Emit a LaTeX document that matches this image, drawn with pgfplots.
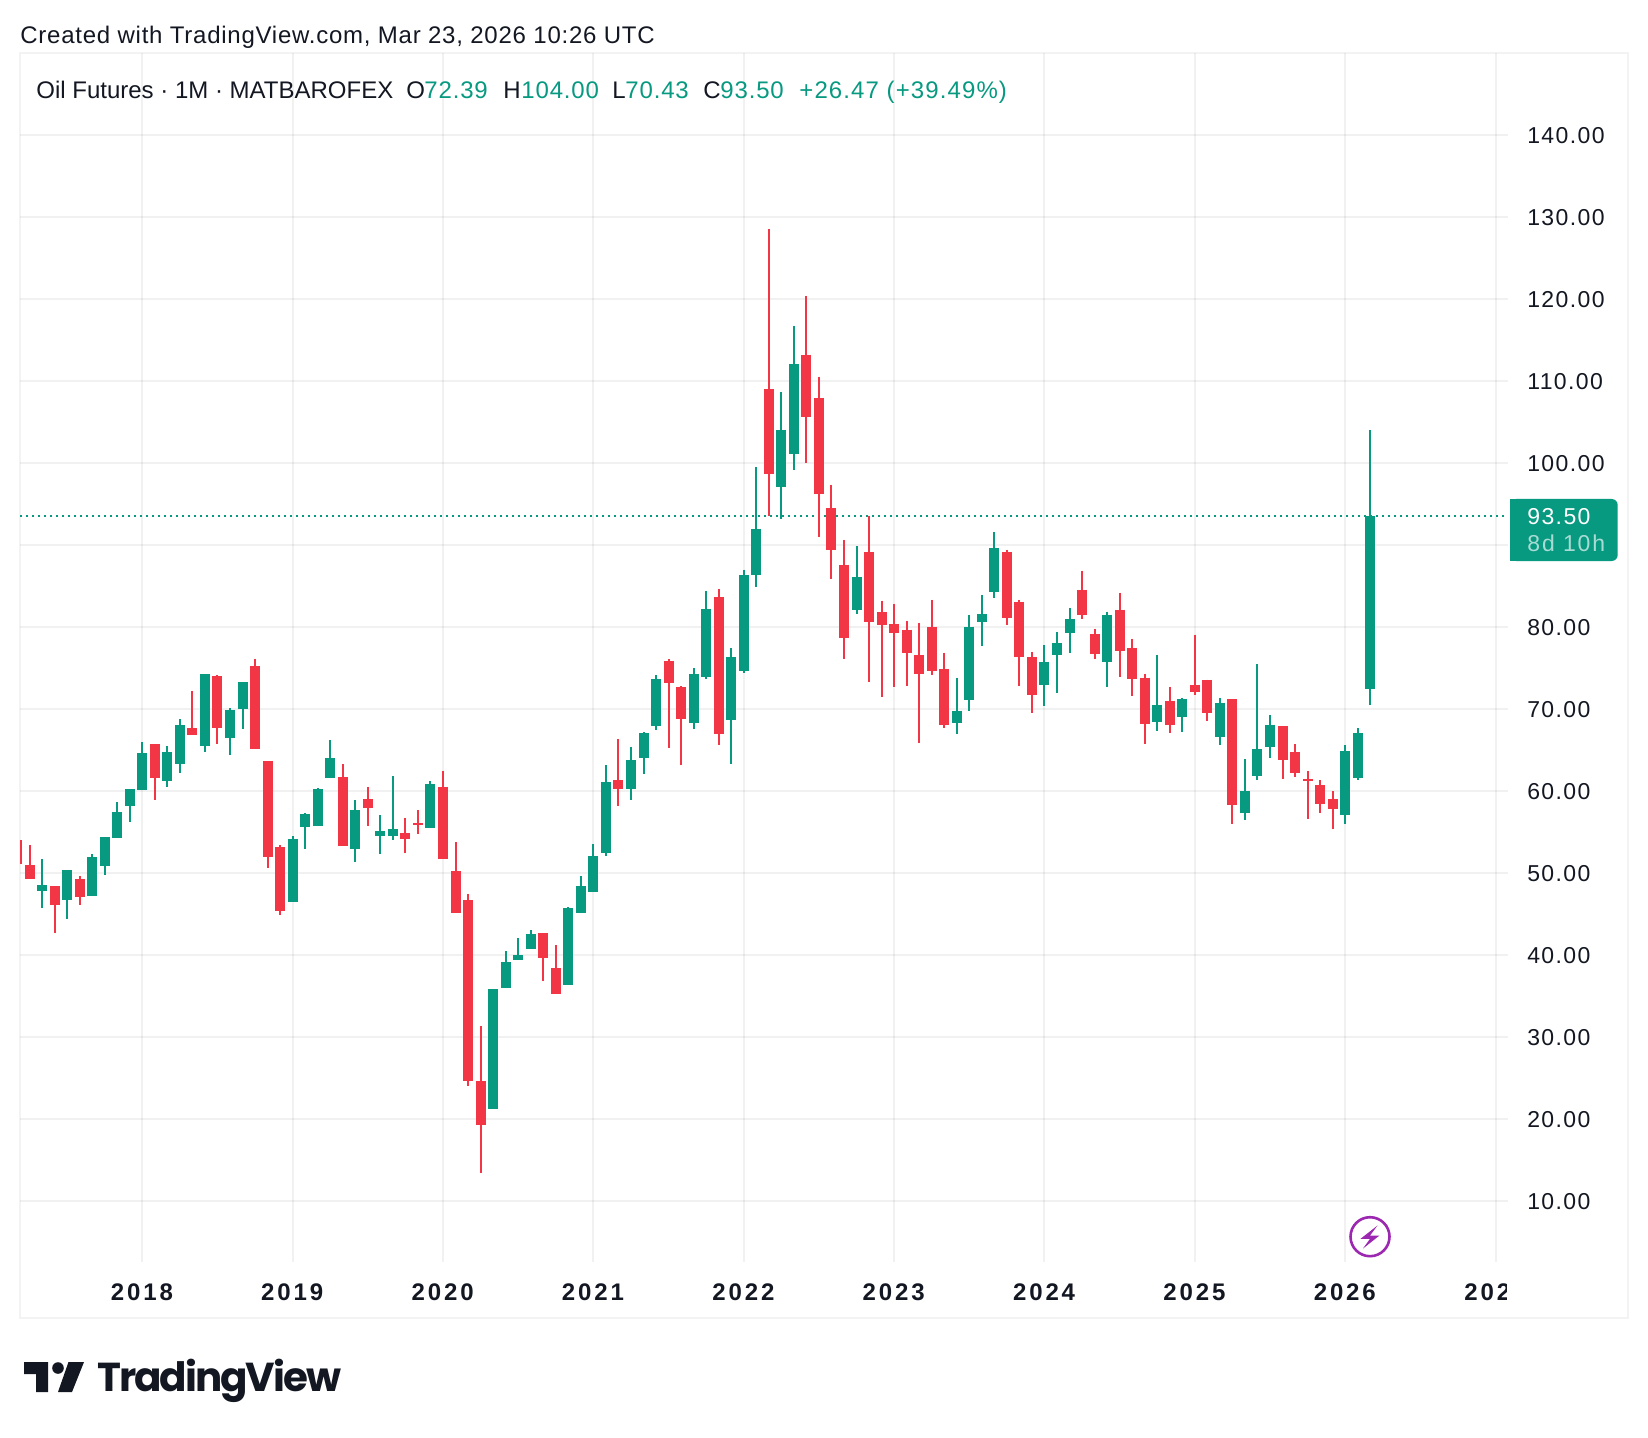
\documentclass[border=0pt]{standalone}
\usepackage{fontspec}
\usepackage{pgfplots}
\usepackage{pgfplotstable}
\pgfplotsset{compat=1.18}
\setmainfont{Liberation Sans}
\newfontfamily\tickfont[LetterSpace=6]{Liberation Sans}
\newfontfamily\yearfont[LetterSpace=12]{Liberation Sans}
\newfontfamily\headfont[LetterSpace=3.1]{Liberation Sans}
\newfontfamily\numfont[LetterSpace=3.5]{Liberation Sans}
\newfontfamily\chgfont[LetterSpace=4.6]{Liberation Sans}
\newfontfamily\timefont[LetterSpace=8]{Liberation Sans}
\newfontfamily\logofont[LetterSpace=-5]{Poppins}
\definecolor{tvgreen}{HTML}{089981}
\definecolor{tvred}{HTML}{F23645}
\definecolor{tvtext}{HTML}{131722}
\definecolor{tvframe}{HTML}{F3F3F3}
\definecolor{tvbolt}{HTML}{9C27B0}

% month index (0 = Jan 2018), body top, body bottom, high, low
\pgfplotstableread{
i top bot hi lo
-8 48.50 47.76 51.67 45.69
-6 50.33 46.67 50.33 44.35
-4 51.91 47.15 52.28 47.15
-3 54.35 50.81 54.35 49.72
-2 57.40 54.23 58.62 54.23
-1 60.20 58.13 60.20 56.18
0 64.59 60.08 65.93 60.08
2 64.72 61.18 65.45 60.45
3 68.01 63.25 68.74 62.15
5 74.23 65.45 74.23 64.72
7 69.84 66.42 70.08 64.35
8 73.25 69.96 73.25 67.52
12 54.11 46.42 54.47 46.42
13 57.15 55.57 57.28 52.89
14 60.20 55.69 60.33 55.69
15 63.98 61.54 66.18 61.54
17 57.60 52.89 58.82 51.30
19 55.08 54.47 57.03 52.28
20 55.33 54.47 61.79 53.98
23 60.81 55.45 61.18 55.45
28 35.81 21.18 35.81 21.18
29 39.10 35.93 40.45 35.93
30 39.96 39.35 42.03 39.35
31 42.52 40.69 43.00 40.69
34 45.69 36.30 45.81 36.30
35 48.37 45.08 49.59 45.08
36 52.03 47.64 53.50 47.64
37 61.06 52.40 63.13 52.03
39 63.74 60.20 65.37 58.86
40 67.03 63.98 67.15 62.03
41 73.62 67.89 74.11 67.40
44 74.23 68.25 74.96 67.52
45 82.20 73.90 84.39 73.66
47 76.30 68.62 77.40 63.25
48 86.34 74.63 86.95 74.39
49 91.95 86.34 99.50 84.88
51 104.02 97.07 108.66 93.17
52 112.07 101.10 116.70 99.15
57 86.10 82.07 89.88 81.59
65 69.76 68.29 73.78 66.95
66 80.00 71.10 81.46 69.76
67 81.59 80.60 83.90 77.68
68 89.63 84.27 91.59 83.54
72 75.73 72.93 77.80 70.37
73 78.05 76.59 79.39 71.95
74 80.98 79.27 82.32 76.83
77 81.46 75.73 81.83 72.68
81 70.49 68.41 76.59 67.32
83 71.22 69.02 71.34 67.20
86 70.73 66.59 71.34 65.61
88 59.96 57.28 63.86 56.42
89 65.10 61.80 75.47 61.32
90 68.05 65.37 69.27 64.02
96 64.84 57.03 65.57 55.93
97 67.03 61.54 67.64 61.30
98 93.50 72.39 104.00 70.43
}\upcandles

\pgfplotstableread{
i top bot hi lo
-10 53.98 51.06 53.98 51.06
-9 50.93 49.23 53.37 49.23
-7 48.37 46.06 48.37 42.64
-5 49.23 47.03 49.60 46.06
1 65.69 61.54 65.69 58.86
4 67.64 66.79 72.15 66.79
6 73.98 67.64 74.11 65.69
9 75.20 65.08 76.06 65.08
10 63.62 51.91 63.62 50.57
11 53.13 45.33 53.37 44.84
16 61.67 53.25 63.25 53.25
18 58.98 57.89 60.45 55.69
21 54.84 54.11 56.67 52.40
22 56.06 55.81 57.64 54.72
24 60.45 51.67 62.45 51.67
25 50.20 45.08 53.74 45.08
26 46.67 24.59 47.40 23.98
27 24.59 19.23 31.30 13.37
32 42.64 39.59 42.64 36.79
33 38.37 35.20 41.18 35.20
38 61.30 60.20 66.30 58.13
42 75.81 73.13 76.06 65.20
43 72.64 68.74 72.76 63.13
46 83.62 66.91 84.63 65.57
50 109.02 98.66 128.50 93.54
53 113.17 105.60 120.37 100.00
54 107.93 96.22 110.49 90.98
55 94.51 89.39 97.32 85.85
56 87.56 78.66 90.61 76.10
58 89.15 80.61 93.54 73.29
59 81.83 80.24 83.17 71.46
60 80.37 79.27 82.80 72.68
61 79.63 76.83 80.73 72.80
62 76.59 74.27 80.49 65.85
63 80.00 74.63 83.29 74.15
64 74.88 68.05 76.83 67.68
69 89.15 81.10 89.39 80.24
70 83.05 76.34 83.29 72.80
71 76.34 71.71 76.95 69.51
75 84.51 81.46 86.83 80.98
76 79.15 76.71 79.76 76.10
78 82.07 77.07 84.15 73.90
79 77.44 73.66 78.54 71.59
80 73.78 68.17 74.27 65.73
82 70.98 68.05 72.68 67.07
84 72.93 72.07 79.02 71.71
85 73.54 69.51 73.54 68.54
87 71.18 58.25 71.18 55.93
91 67.89 63.74 67.89 61.42
92 64.72 62.15 65.69 61.67
93 61.42 61.18 62.40 56.54
94 60.69 58.37 61.30 57.28
95 58.98 57.76 59.96 55.33
}\downcandles

\newcommand{\tvfont}{\fontsize{11.5pt}{14pt}\selectfont}
\newcommand{\hdfont}{\fontsize{12pt}{14pt}\selectfont}
\newcommand{\yrsize}{\fontsize{12pt}{14pt}\selectfont}
\pgfplotsset{
  wick/.style={draw=none, mark=none, forget plot, error bars/.cd, y dir=minus, y explicit,
    error mark=none, error bar style={draw=#1, line width=1pt}},
  body/.style={draw=none, mark=none, forget plot, error bars/.cd, y dir=minus, y explicit,
    error mark=none, error bar style={draw=#1, line width=5pt}},
}

\begin{document}
% one tikz unit = one pixel of the reference, origin top left
\begin{tikzpicture}[x=0.5pt, y=-0.5pt]
\fill[white] (0,0) rectangle (1648,1438);
\path[use as bounding box] (0,0) rectangle (1648,1438);
\draw[tvframe, line width=1pt] (20,53) rectangle (1628,1317.7);
\coordinate (pane) at (20,1261.7);

\begin{axis}[
    at={(pane)}, anchor=south west,
    scale only axis,
    width=743.85pt, height=604.35pt,
    xmin=-9.76, xmax=108.97,
    ymin=2.56, ymax=149.96,
    axis line style={draw=none},
    major tick length=0pt,
    xtick={0,12,...,108},
    xticklabels={2018,2019,2020,2021,2022,2023,2024,2025,2026,},
    ytick={10,20,...,140},
    yticklabels={10.00,20.00,30.00,40.00,50.00,60.00,70.00,80.00,,100.00,110.00,120.00,130.00,140.00},
    yticklabel pos=right,
    grid=major,
    major grid style={line width=1pt, black, opacity=0.055},
    xticklabel style={inner sep=0pt, yshift=-10.6pt, xshift=-0.2pt, font=\yrsize\yearfont\bfseries, text=tvtext},
    yticklabel style={inner sep=0pt, xshift=9.6pt, yshift=-0.5pt, anchor=west, font=\tvfont\tickfont, text=tvtext},
]
% last price line
\addplot[tvgreen, line width=1pt, dash pattern=on 1pt off 2pt, forget plot]
  coordinates {(-9.76,93.5) (108.97,93.5)};

\addplot[wick=tvgreen] table[x=i, y=hi, y error minus expr=\thisrow{hi}-\thisrow{lo}] {\upcandles};
\addplot[body=tvgreen] table[x=i, y=top, y error minus expr=\thisrow{top}-\thisrow{bot}] {\upcandles};
\addplot[wick=tvred] table[x=i, y=hi, y error minus expr=\thisrow{hi}-\thisrow{lo}] {\downcandles};
\addplot[body=tvred] table[x=i, y=top, y error minus expr=\thisrow{top}-\thisrow{bot}] {\downcandles};
\end{axis}

% header
\tikzset{txt/.style={anchor=base west, inner sep=0pt, font=\hdfont, text=tvtext},
         grn/.style={txt, text=tvgreen, font=\hdfont\numfont}}
\node[txt, font=\hdfont\headfont] at (20,44) {Created with TradingView.com, Mar 23, 2026 10:26 UTC};
\node[txt] at (36,98.5) {Oil Futures · 1M · MATBAROFEX};
\node[txt] at (406,98.5) {O};
\node[grn] at (424,98.5) {72.39};
\node[txt] at (503,98.5) {H};
\node[grn] at (521,98.5) {104.00};
\node[txt] at (612,98.5) {L};
\node[grn] at (625,98.5) {70.43};
\node[txt] at (703,98.5) {C};
\node[grn] at (720,98.5) {93.50};
\node[grn, font=\hdfont\chgfont] at (799,98.5) {+26.47 (+39.49\%)};

% price tag
\fill[tvgreen, rounded corners=3] (1510,499) -- (1617.7,499) -- (1617.7,561) -- (1510,561) -- cycle;
\fill[tvgreen] (1510,499) rectangle (1525,561);
\node[anchor=base west, inner sep=0pt, font=\tvfont\tickfont, text=white] at (1527,524) {93.50};
\node[anchor=base west, inner sep=0pt, font=\tvfont\timefont, text=white, text opacity=0.65] at (1527,552) {8d 10h};

% clipped last year label
\begin{scope}
\clip (1440,1270) rectangle (1506.5,1310);
\node[anchor=base west, inner sep=0pt, font=\yrsize\yearfont\bfseries, text=tvtext] at (1464,1300) {202};
\end{scope}

% lightning icon
\draw[tvbolt, line width=1.3pt] (1370,1236.7) circle[radius=19.5];
\fill[tvbolt] (1377.5,1225.5) -- (1360.5,1238.8) -- (1370,1238.8) -- (1363,1248.5)
  -- (1379.5,1235.5) -- (1370,1235.5) -- cycle;

% logo
\fill[tvtext] (24,1362) -- (48,1362) -- (48,1392) -- (36,1392) -- (36,1374) -- (24,1374) -- cycle;
\fill[tvtext] (58,1368) circle[radius=5.8];
\fill[tvtext] (68.5,1362) -- (84,1362) -- (72,1392) -- (58,1392) -- cycle;
\node[anchor=base west, inner sep=0pt, text=tvtext, font=\fontsize{20.2pt}{24pt}\selectfont\logofont\bfseries] at (97,1391.7) {TradingView};
\end{tikzpicture}
\end{document}
